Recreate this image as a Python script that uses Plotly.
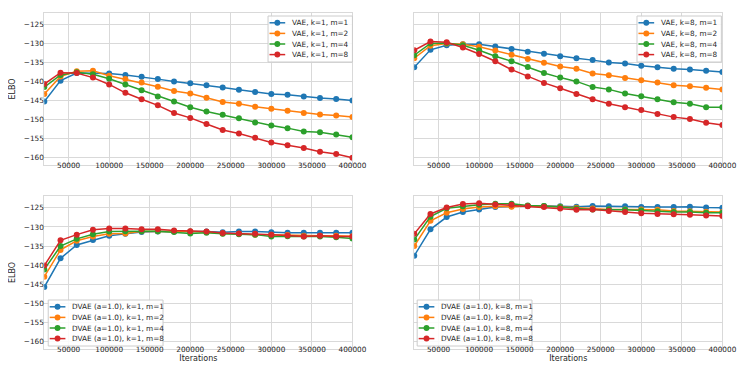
import plotly.graph_objects as go

iters = [20000, 40000, 60000, 80000, 100000, 120000, 140000, 160000, 180000, 200000,
         220000, 240000, 260000, 280000, 300000, 320000, 340000, 360000, 380000, 400000]

# VAE, k=1
vae_k1_m1 = [-145.2, -139.7, -137.7, -137.7, -137.8, -138.2, -138.7, -139.3, -139.9, -140.4,
             -140.9, -141.5, -142.1, -142.7, -143.2, -143.4, -143.9, -144.3, -144.5, -144.9]
vae_k1_m2 = [-143.2, -138.6, -137.2, -137.1, -138.4, -139.3, -140.2, -141.3, -142.4, -143.1,
             -144.2, -145.3, -145.8, -146.6, -147.1, -147.6, -148.2, -148.6, -148.9, -149.3]
vae_k1_m4 = [-141.4, -138.2, -137.5, -138.0, -139.2, -140.7, -142.2, -143.9, -145.2, -146.7,
             -147.8, -148.7, -149.6, -150.7, -151.5, -152.2, -153.1, -153.3, -153.9, -154.6]
vae_k1_m8 = [-140.6, -137.6, -137.7, -138.9, -140.7, -142.9, -144.6, -146.2, -148.2, -149.5,
             -151.1, -152.7, -153.6, -154.7, -156.0, -156.7, -157.4, -158.4, -159.0, -160.0]

# VAE, k=8
vae_k8_m1 = [-136.2, -131.6, -130.4, -130.1, -130.1, -130.7, -131.4, -132.1, -132.6, -133.3,
             -133.8, -134.3, -134.9, -135.2, -135.8, -136.2, -136.6, -136.8, -137.1, -137.4]
vae_k8_m2 = [-133.8, -130.5, -129.9, -130.1, -130.8, -131.8, -132.9, -134.0, -135.0, -136.0,
             -136.6, -137.8, -138.3, -139.0, -139.6, -140.2, -140.9, -141.2, -141.6, -142.0]
vae_k8_m4 = [-133.0, -129.9, -129.8, -130.4, -131.7, -133.3, -134.6, -136.1, -137.7, -138.9,
             -139.9, -141.4, -142.0, -143.1, -143.8, -144.6, -145.4, -145.8, -146.7, -146.7]
vae_k8_m8 = [-131.7, -129.4, -129.6, -131.0, -132.7, -134.6, -136.8, -138.6, -140.3, -141.7,
             -143.2, -144.6, -145.8, -146.7, -147.4, -148.5, -149.3, -149.8, -150.8, -151.4]

# DVAE (a=1.0), k=1
dvae_k1_m1 = [-145.7, -138.2, -134.7, -133.4, -132.3, -131.8, -131.3, -131.2, -131.2, -131.2,
              -131.2, -131.4, -131.2, -131.2, -131.4, -131.5, -131.5, -131.5, -131.5, -131.5]
dvae_k1_m2 = [-143.0, -136.0, -133.6, -132.5, -131.8, -131.7, -131.1, -131.1, -131.1, -131.2,
              -131.3, -131.7, -131.8, -132.0, -132.0, -132.1, -132.3, -132.3, -132.3, -132.4]
dvae_k1_m4 = [-141.1, -135.0, -133.1, -131.9, -131.2, -131.1, -131.1, -131.1, -131.3, -131.7,
              -131.5, -131.8, -131.9, -132.0, -132.5, -132.4, -132.5, -132.5, -132.7, -133.0]
dvae_k1_m8 = [-140.1, -133.5, -132.0, -130.7, -130.4, -130.4, -130.6, -130.6, -130.9, -131.1,
              -131.2, -131.6, -131.7, -131.8, -132.0, -132.2, -132.5, -132.3, -132.5, -132.5]

# DVAE (a=1.0), k=8
dvae_k8_m1 = [-137.5, -130.6, -127.4, -126.1, -125.4, -124.8, -124.6, -124.5, -124.5, -124.6,
              -124.7, -124.5, -124.6, -124.6, -124.8, -124.8, -124.8, -124.7, -124.9, -125.0]
dvae_k8_m2 = [-135.0, -128.4, -126.3, -125.3, -124.8, -124.6, -124.7, -124.5, -124.6, -124.7,
              -125.0, -125.2, -125.4, -125.4, -125.4, -125.5, -125.8, -125.9, -126.0, -126.1]
dvae_k8_m4 = [-133.3, -127.3, -125.1, -124.6, -124.2, -123.9, -123.9, -124.4, -124.5, -124.8,
              -125.2, -125.4, -125.4, -125.5, -125.7, -125.9, -126.1, -126.1, -126.3, -126.3]
dvae_k8_m8 = [-131.8, -126.6, -124.9, -124.0, -123.8, -124.1, -124.2, -124.6, -124.8, -125.2,
              -125.5, -125.4, -125.8, -126.1, -126.4, -126.6, -126.7, -126.8, -127.0, -127.1]

m_values = [1, 2, 4, 8]
colors = ["#1f77b4", "#ff7f0e", "#2ca02c", "#d62728"]

x_ticks = [50000, 100000, 150000, 200000, 250000, 300000, 350000, 400000]
y_ticks = [-125, -130, -135, -140, -145, -150, -155, -160]

panels = [
    ("VAE, k=1", [vae_k1_m1, vae_k1_m2, vae_k1_m4, vae_k1_m8]),
    ("VAE, k=8", [vae_k8_m1, vae_k8_m2, vae_k8_m4, vae_k8_m8]),
    ("DVAE (a=1.0), k=1", [dvae_k1_m1, dvae_k1_m2, dvae_k1_m4, dvae_k1_m8]),
    ("DVAE (a=1.0), k=8", [dvae_k8_m1, dvae_k8_m2, dvae_k8_m4, dvae_k8_m8]),
]

W, H = 747, 366
xdom = [[37 / W, 351 / W], [414 / W, 728 / W]]
ydom = [[1 - 157 / H, 1 - 5 / H], [1 - 341 / H, 1 - 188 / H]]

# legend boxes in pixels: left, top, width
legend_boxes = [(265, 8, 86), (641, 8, 86), (41, 292, 117), (417, 292, 117)]

font = "DejaVu Sans"
tick_col = "#262626"
grid_col = "#d9d9d9"
fs = 7.3

fig = go.Figure()

for i, (name, series) in enumerate(panels):
    n = i + 1
    sfx = "" if n == 1 else str(n)
    for m, ys, c in zip(m_values, series, colors):
        fig.add_trace(go.Scatter(
            x=iters, y=ys, mode="lines+markers",
            name="%s, m=%d" % (name, m),
            line=dict(color=c, width=1.5),
            marker=dict(color=c, size=6),
            xaxis="x" + sfx, yaxis="y" + sfx, showlegend=False,
        ))

layout = dict(
    width=W, height=H,
    margin=dict(l=0, r=0, t=0, b=0),
    paper_bgcolor="white", plot_bgcolor="white",
    font=dict(family=font, size=8, color=tick_col),
    showlegend=False,
)

for i in range(4):
    n = i + 1
    row, col = divmod(i, 2)
    sfx = "" if n == 1 else str(n)
    layout["xaxis" + sfx] = dict(
        domain=xdom[col], anchor="y" + sfx, range=[20000, 400000],
        tickvals=x_ticks, tickformat="d", showgrid=True, gridcolor=grid_col,
        gridwidth=1, showline=True, linecolor=grid_col, mirror=True, zeroline=False,
        ticks="", ticklabelstandoff=-7, tickfont=dict(size=fs, color=tick_col),
        title=dict(text="Iterations" if row == 1 else "", font=dict(size=8), standoff=0),
    )
    layout["yaxis" + sfx] = dict(
        domain=ydom[row], anchor="x" + sfx, range=[-161.9, -121.9],
        tickvals=y_ticks, showticklabels=(col == 0), showgrid=True, gridcolor=grid_col,
        gridwidth=1, showline=True, linecolor=grid_col, mirror=True, zeroline=False,
        ticks="", ticklabelstandoff=-2, tickfont=dict(size=fs, color=tick_col),
        title=dict(text="ELBO" if col == 0 else "", font=dict(size=8), standoff=8),
    )

# hand-drawn legends (matplotlib-like compact spacing)
shapes = []
annotations = []
for (name, series), (lx, ly, lw) in zip(panels, legend_boxes):
    shapes.append(dict(type="rect", xref="paper", yref="paper", layer="above",
                       x0=lx / W, x1=(lx + lw) / W, y0=1 - ly / H, y1=1 - (ly + 46) / H,
                       fillcolor="rgba(255,255,255,0.85)", line=dict(color="#cccccc", width=1)))
    for k, (m, c) in enumerate(zip(m_values, colors)):
        cy = 1 - (ly + 6.8 + k * 10.6) / H
        shapes.append(dict(type="line", xref="paper", yref="paper", layer="above",
                           x0=(lx + 1.5) / W, x1=(lx + 17.5) / W, y0=cy, y1=cy,
                           line=dict(color=c, width=1.5)))
        shapes.append(dict(type="circle", xref="paper", yref="paper", layer="above",
                           x0=(lx + 6.5) / W, x1=(lx + 12.5) / W, y0=cy - 3 / H, y1=cy + 3 / H,
                           fillcolor=c, line=dict(width=0)))
        annotations.append(dict(xref="paper", yref="paper", x=(lx + 22) / W, y=cy,
                                xanchor="left", yanchor="middle", showarrow=False,
                                text="%s, m=%d" % (name, m),
                                font=dict(size=fs, color=tick_col)))

layout["shapes"] = shapes
layout["annotations"] = annotations

fig.update_layout(**layout)
fig.write_html("out.html")
